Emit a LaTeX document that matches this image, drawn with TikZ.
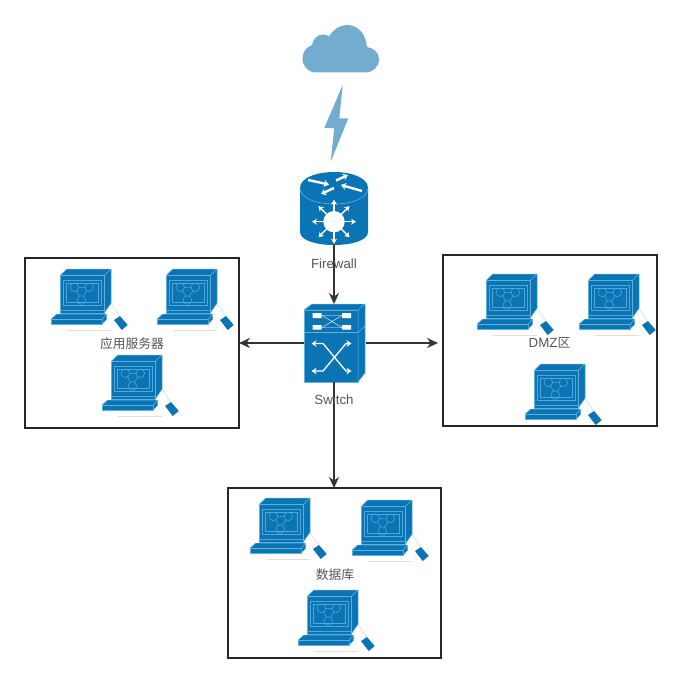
\documentclass[tikz,border=0pt]{standalone}
\usepackage{fontspec}
\setmainfont{Liberation Sans}
\newfontfamily\cjkf{Noto Sans CJK SC}[Scale=0.96]
\usetikzlibrary{arrows.meta}
\definecolor{ciscoblue}{HTML}{0B74B5}
\definecolor{ciscolight}{HTML}{5FB0DC}
\definecolor{skyblue}{HTML}{72ACCF}
\definecolor{inkline}{HTML}{333333}
\definecolor{labelgray}{HTML}{555555}
\tikzset{
  x=1pt,y=-1pt,
  zone/.style={draw=black!85,line width=1.5pt,fill=none,inner sep=0pt,outer sep=0pt,anchor=north west},
  link/.style={draw=inkline,line width=1.5pt,-{Stealth[length=11pt,width=10pt]}},
  lbl/.style={font=\fontsize{13.3}{15}\selectfont,text=labelgray,inner sep=0pt},
  face/.style={fill=ciscoblue,draw=ciscolight,line width=.5pt,line join=round},
  thin light/.style={draw=ciscolight!85!ciscoblue,line width=.55pt},
  arrowwhite/.style={draw=white,line width=1.4pt,-{Stealth[length=5pt,width=6pt]}},
  crossarrow/.style={draw=white,line width=1.3pt,line join=round,{Stealth[length=5pt,width=6.5pt]}-{Stealth[length=5pt,width=6.5pt]}},
  toparrow/.style={draw=white,line width=2.4pt,-{Stealth[length=5pt,width=7pt]}},
  station/.pic={
    \path[face] (20,15.6)--(26.7,9)--(71,9)--(64,15.6)--cycle;
    \path[face] (64,15.6)--(71,9)--(71,43.3)--(64,53.3)--cycle;
    \path[face] (20,15.6) rectangle (64,53.3);
    \draw[thin light] (23.3,20) rectangle (61,45);
    \draw[thin light] (26,23) rectangle (58,42.5);
    \draw[thin light] (20,50) -- (64,50);
    \draw[thin light] (34.3,27.3) circle (4.3) (49.3,27.3) circle (4.3) (41.3,40) circle (4.3);
    \draw[thin light] (38.6,27.3)--(45,27.3) (36.5,31)--(39.5,36) (47,31)--(43.5,36);
    \path[face] (11,59.3)--(16.7,54)--(66.7,54)--(62.3,59.3)--cycle;
    \path[face] (11,59.3)--(62.3,59.3)--(62.3,64)--(11,64)--cycle;
    \path[face] (62.3,59.3)--(66.7,54)--(66.7,59.3)--(62.3,64)--cycle;
    \draw[ciscolight!50,line width=.4pt] (71,43.3)--(80,56.7);
    \draw[black!12,line width=.5pt] (26.7,70)--(71,70);
    \path[fill=ciscoblue] (74,60)--(80,56)--(87.7,65)--(81.7,70)--cycle;
  }
}
\begin{document}
\begin{tikzpicture}
\useasboundingbox (0,0) rectangle (682,682);

% workstations
\foreach \x/\y in {40/260,146/260,91/346,466/265,568/265,514/355,239/489,341/491,287/581}
  \pic at (\x,\y) {station};

% zones
\node[zone,minimum width=214pt,minimum height=170pt] (zoneapp) at (25,258) {};
\node[zone,minimum width=214pt,minimum height=171pt] (zonedmz) at (443,255) {};
\node[zone,minimum width=213pt,minimum height=170pt] (zonedb) at (228,488) {};

% anchors for the two devices
\node[minimum width=68pt,minimum height=72pt,inner sep=0pt,outer sep=0pt] (firewall) at (334,209) {};
\node[minimum width=62pt,minimum height=78pt,inner sep=0pt,outer sep=0pt] (switch) at (335,343) {};

% cloud
\fill[skyblue] (316,72.5) .. controls (308,72.5) and (302.5,66) .. (302.5,58.5)
  .. controls (302.5,52) and (306.5,47) .. (312,45)
  .. controls (313,38.5) and (318,34.5) .. (323,34.5)
  .. controls (325.5,34.5) and (327.5,35) .. (329,36.5)
  .. controls (333,29.5) and (340,25) .. (347,25)
  .. controls (358,25) and (366,34) .. (367,47)
  .. controls (374,48) and (379,53) .. (379,59)
  .. controls (379,67) and (373,72.5) .. (365,72.5) -- cycle;
% bolt
\fill[skyblue] (342.7,85) -- (324.3,128) -- (334.3,128) -- (330.7,161.7) -- (348.3,118.3) -- (339.3,118.3) -- cycle;

% firewall
\fill[ciscoblue] (300,188) -- (300,232) .. controls (300,241) and (318,245) .. (334,245)
  .. controls (350,245) and (368,241) .. (368,232) -- (368,188) -- cycle;
\fill[ciscoblue] (334,172) .. controls (316,172) and (300,178) .. (300,188)
  .. controls (300,198) and (316,204) .. (334,204)
  .. controls (352,204) and (368,198) .. (368,188)
  .. controls (368,178) and (352,172) .. (334,172) -- cycle;
\draw[ciscolight,line width=.6pt] (300,188) .. controls (300,198) and (316,204) .. (334,204)
  .. controls (352,204) and (368,198) .. (368,188);
\fill[white] (334,221.7) circle (10.7);
\foreach \a in {0,45,...,315}
  \draw[arrowwhite] (334,221.7) ++(\a:10) -- ++(\a:12);
\draw[toparrow] (308,180) -- (329,184.5);
\draw[toparrow] (362,191) -- (341,185);
\draw[toparrow] (336,180.5) -- (348,175);
\draw[toparrow] (334,188) -- (321,194);

% switch
\path[face] (304,310) rectangle (358,382);
\path[face] (304,310) -- (312,304) -- (365,304) -- (358,310) -- cycle;
\path[face] (358,310) -- (365,304) -- (365,373) -- (358,382) -- cycle;
\draw[ciscolight,line width=.6pt] (304,332.5) -- (358,332.5) -- (365,326);
\fill[white] (312.7,313) rectangle (321.7,318) (351,313) rectangle (342,318);
\fill[white] (312.7,325) rectangle (321.7,329.5) (351,325) rectangle (342,329.5);
\draw[white,line width=.4pt] (322,315.5) -- (342,327.5) (322,327.5) -- (342,315.5) (322,315.5) -- (342,315.5) (322,327.5) -- (342,327.5);
\draw[crossarrow] (311.5,343.5) -- (323,343.5) -- (346,371) -- (351.5,371);
\draw[crossarrow] (351.5,343.5) -- (346,343.5) -- (323,371) -- (311.5,371);

% connectors
\draw[link] (firewall.south) -- (switch.north -| firewall.south);
\draw[link] (switch.west) -- (switch.west -| zoneapp.east);
\draw[link] (switch.east) -- ([xshift=-5pt]switch.east -| zonedmz.west);
\draw[link] (switch.south -| firewall.south) -- (zonedb.north -| firewall.south);

% labels
\node[lbl] (lfw) at (334,264) {Firewall};
\node[lbl] (lsw) at (334,399.5) {Switch};
\node[lbl] (lapp) at (132,344) {\cjkf 应用服务器};
\node[lbl] (ldmz) at (549.5,342.5) {DMZ\cjkf 区};
\node[lbl] (ldb) at (335,574.5) {\cjkf 数据库};
\end{tikzpicture}
\end{document}
